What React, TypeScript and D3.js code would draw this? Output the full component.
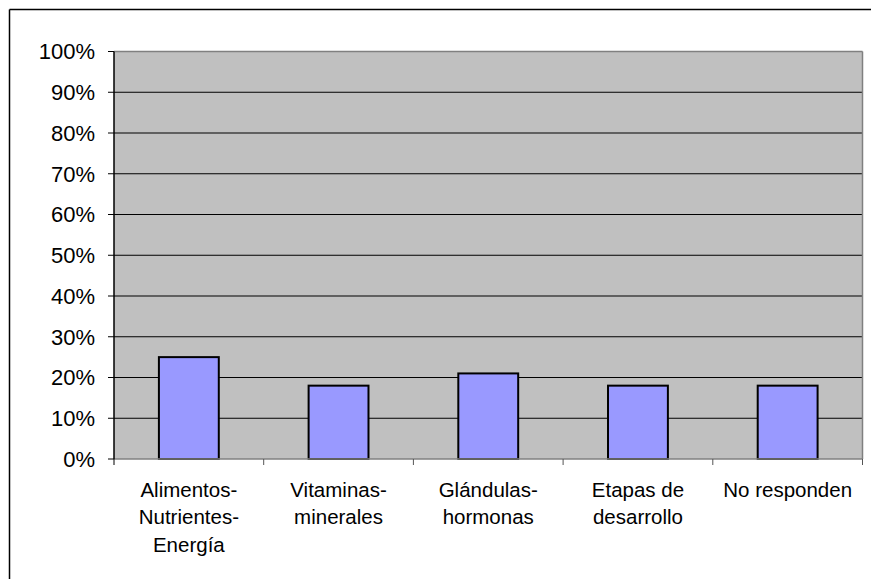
import React from "react";
import * as d3 from "d3";

const categories: string[][] = [
  ["Alimentos-", "Nutrientes-", "Energía"],
  ["Vitaminas-", "minerales"],
  ["Glándulas-", "hormonas"],
  ["Etapas de", "desarrollo"],
  ["No responden"],
];
const values: number[] = [25, 18, 21, 18, 18];
const yTicks: number[] = [0, 10, 20, 30, 40, 50, 60, 70, 80, 90, 100];

export default function App() {
  const W = 871, H = 579;
  const left = 114, right = 862.5, top = 51.5, bottom = 459;
  const keys = categories.map((_, i) => String(i));
  const x = d3.scaleBand().domain(keys).range([left, right]).paddingInner(0).paddingOuter(0);
  const y = d3.scaleLinear().domain([0, 100]).range([bottom, top]);
  const bw = x.bandwidth() * 0.4;
  const font = "'Liberation Sans', Arial, sans-serif";
  return (
    <svg width={W} height={H} style={{ position: "absolute", left: 0, top: 0 }}>
      <rect x={0} y={0} width={W} height={H} fill="#fff" />
      <line x1={9.5} y1={9.5} x2={W} y2={9.5} stroke="#000" strokeWidth={1.5} />
      <line x1={9.5} y1={9.5} x2={9.5} y2={H} stroke="#000" strokeWidth={1.5} />
      <rect x={left} y={top} width={right - left} height={bottom - top} fill="#c0c0c0" />
      {yTicks.filter((t) => t > 0 && t < 100).map((t) => (
        <line key={t} x1={left} x2={right} y1={y(t)} y2={y(t)} stroke="#000" strokeWidth={1} />
      ))}
      <line x1={left} x2={right} y1={top} y2={top} stroke="#808080" strokeWidth={1.5} />
      <line x1={right} x2={right} y1={top} y2={bottom} stroke="#808080" strokeWidth={1.5} />
      {values.map((v, i) => {
        const cx = (x(String(i)) as number) + x.bandwidth() / 2;
        return (
          <rect key={i} x={cx - bw / 2} y={y(v)} width={bw} height={bottom - y(v)}
            fill="#9999ff" stroke="#000" strokeWidth={2} />
        );
      })}
      <line x1={left} x2={right} y1={bottom} y2={bottom} stroke="#808080" strokeWidth={1.5} />
      <line x1={left} x2={left} y1={top} y2={bottom} stroke="#000" strokeWidth={1.5} />
      {yTicks.map((t) => (
        <g key={t}>
          <line x1={left - 6} x2={left} y1={y(t)} y2={y(t)} stroke="#000" strokeWidth={1} />
          <text x={95} y={y(t)} dy="0.36em" textAnchor="end" fontFamily={font} fontSize={22} fill="#000">{t}%</text>
        </g>
      ))}
      {[...keys.map((k) => x(k) as number), right].map((px, i) => (
        <line key={i} x1={px} x2={px} y1={bottom} y2={bottom + 6} stroke={i === 0 ? "#000" : "#555"} strokeWidth={1} />
      ))}
      {categories.map((lines, i) => {
        const cx = (x(String(i)) as number) + x.bandwidth() / 2;
        return (
          <text key={i} textAnchor="middle" fontFamily={font} fontSize={20.5} fill="#000">
            {lines.map((l, j) => (
              <tspan key={j} x={cx} y={496.5 + j * 27.7}>{l}</tspan>
            ))}
          </text>
        );
      })}
    </svg>
  );
}
